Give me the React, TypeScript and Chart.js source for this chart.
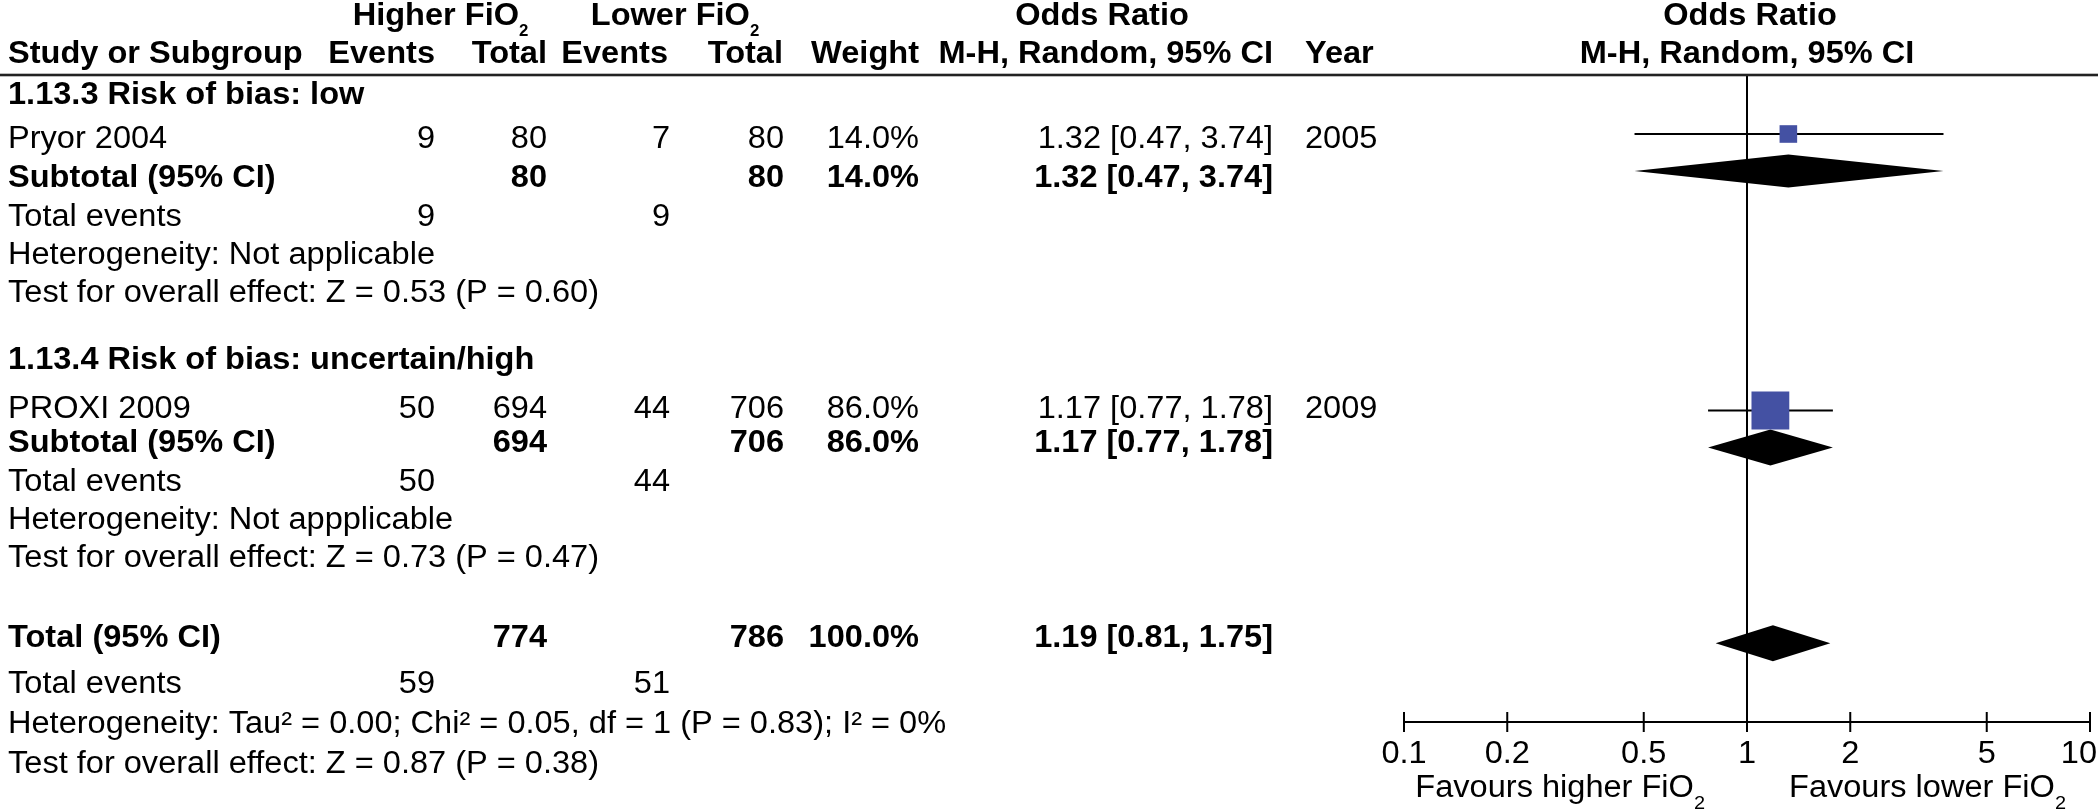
import React, { useEffect, useRef } from 'react';
import { Chart, registerables } from 'chart.js';

Chart.register(...registerables);

// ---------------- data ----------------
const studies = ['Pryor 2004', 'PROXI 2009'];
const studyYears = ['2005', '2009'];
const higherEvents = [9, 50];
const higherTotals = [80, 694];
const lowerEvents = [7, 44];
const lowerTotals = [80, 706];
const studyWeights = [14.0, 86.0];
const studyOR = [1.32, 1.17];
const studyLow = [0.47, 0.77];
const studyHigh = [3.74, 1.78];

const subgroupTitles = ['1.13.3 Risk of bias: low', '1.13.4 Risk of bias: uncertain/high'];
const subgroupOR = [1.32, 1.17];
const subgroupLow = [0.47, 0.77];
const subgroupHigh = [3.74, 1.78];
const subgroupHigherTotals = [80, 694];
const subgroupLowerTotals = [80, 706];
const subgroupWeights = [14.0, 86.0];
const subgroupHigherEvents = [9, 50];
const subgroupLowerEvents = [9, 44];
const subgroupHeterogeneity = ['Heterogeneity: Not applicable', 'Heterogeneity: Not appplicable'];
const subgroupOverallTest = [
  'Test for overall effect: Z = 0.53 (P = 0.60)',
  'Test for overall effect: Z = 0.73 (P = 0.47)',
];

const overallEstimate = [1.19, 0.81, 1.75]; // OR, low, high
const overallTotals = [774, 786];
const overallEvents = [59, 51];
const overallWeight = [100.0];
const overallHeterogeneity = 'Heterogeneity: Tau\u00B2 = 0.00; Chi\u00B2 = 0.05, df = 1 (P = 0.83); I\u00B2 = 0%';
const overallTest = 'Test for overall effect: Z = 0.87 (P = 0.38)';

const xTicks = [0.1, 0.2, 0.5, 1, 2, 5, 10];
const xTickLabels = ['0.1', '0.2', '0.5', '1', '2', '5', '10'];

// ---------------- layout ----------------
const W = 2098;
const H = 811;
const FONT = '"Liberation Sans", Arial, Helvetica, sans-serif';
const FS = 31;
const SX = 1.05;
const COL = { name: 8, hEv: 435, hTot: 547, lEv: 670, lTot: 784, weight: 919, or: 1273, year: 1305 };
const HEADER_BASE = [25, 63.3];
const SECTION_BASE = [
  [104.3, 148.3, 186.7, 225.7, 264.3, 301.7],
  [369.3, 418, 452, 490.7, 529.3, 566.7],
];
const TOTAL_BASE = [646.7, 693.3, 733.3, 773.3];
const STUDY_MARK_Y = [134, 410.5];
const SUB_MARK_Y = [171, 447.5];
const TOTAL_MARK_Y = 643.3;
const SUB_DIAMOND_HALF = [16.5, 18];
const TOTAL_DIAMOND_HALF = 18;
const SQUARE_SIDE = [17.6, 37.8];
const RULE_Y = 75;
const AXIS_Y = 722;
const TICK_LABEL_BASE = 763.3;
const FOOTER_BASE = 797;
const PLOT_LEFT = 1404;
const PLOT_RIGHT = 2090;
const SQUARE_COLOR = '#4451a3';

const fmt2 = (v: number) => v.toFixed(2);
const fmtCI = (o: number, l: number, h: number) => `${fmt2(o)} [${fmt2(l)}, ${fmt2(h)}]`;
const fmtW = (w: number) => `${w.toFixed(1)}%`;

type Part = { t: string; bold?: boolean; size?: number; dy?: number };

function fontOf(p: Part) {
  return `${p.bold ? 'bold ' : ''}${p.size || FS}px ${FONT}`;
}

function drawParts(ctx: CanvasRenderingContext2D, parts: Part[], x: number, y: number, align: 'left' | 'right' | 'center') {
  const widths = parts.map((p) => {
    ctx.font = fontOf(p);
    return ctx.measureText(p.t).width * SX;
  });
  const total = widths.reduce((a, b) => a + b, 0);
  let start = align === 'left' ? x : align === 'right' ? x - total : x - total / 2;
  parts.forEach((p, i) => {
    ctx.save();
    ctx.font = fontOf(p);
    ctx.textAlign = 'left';
    ctx.textBaseline = 'alphabetic';
    ctx.fillStyle = '#000';
    ctx.translate(start, y + (p.dy || 0));
    ctx.scale(SX, 1);
    ctx.fillText(p.t, 0, 0);
    ctx.restore();
    start += widths[i];
  });
  return total;
}

function txt(ctx: CanvasRenderingContext2D, s: string, x: number, y: number, align: 'left' | 'right' | 'center', bold = false) {
  drawParts(ctx, [{ t: s, bold }], x, y, align);
}

const tablePlugin = {
  id: 'forestTable',
  beforeDraw(chart: any) {
    const ctx = chart.ctx as CanvasRenderingContext2D;
    ctx.save();
    ctx.fillStyle = '#fff';
    ctx.fillRect(0, 0, W, H);
    ctx.restore();
  },
  afterDraw(chart: any) {
    const ctx = chart.ctx as CanvasRenderingContext2D;
    const xs = chart.scales.x;
    const ys = chart.scales.y;
    const nullX = xs.getPixelForValue(1);

    // header rule
    ctx.save();
    ctx.fillStyle = '#222';
    ctx.fillRect(0, ys.getPixelForValue(RULE_Y) - 1.3, W, 2.6);
    ctx.restore();

    // x axis
    const ay = ys.getPixelForValue(AXIS_Y);
    ctx.save();
    ctx.strokeStyle = '#000';
    ctx.lineWidth = 2;
    ctx.beginPath();
    ctx.moveTo(xs.getPixelForValue(xTicks[0]), ay);
    ctx.lineTo(xs.getPixelForValue(xTicks[xTicks.length - 1]), ay);
    xTicks.forEach((t) => {
      const px = xs.getPixelForValue(t);
      ctx.moveTo(px, ay - 10);
      ctx.lineTo(px, ay + 10);
    });
    ctx.stroke();
    ctx.restore();
    xTicks.forEach((t, i) => {
      const px = xs.getPixelForValue(t);
      ctx.font = `${FS}px ${FONT}`;
      const w = ctx.measureText(xTickLabels[i]).width * SX;
      let cx = px;
      if (cx + w / 2 > W - 1) cx = W - 1 - w / 2;
      txt(ctx, xTickLabels[i], cx, TICK_LABEL_BASE, 'center');
    });
    drawParts(ctx, [{ t: 'Favours higher FiO' }, { t: '2', size: 19, dy: 12 }], nullX - 42, FOOTER_BASE, 'right');
    drawParts(ctx, [{ t: 'Favours lower FiO' }, { t: '2', size: 19, dy: 12 }], nullX + 42, FOOTER_BASE, 'left');

    // headers
    drawParts(ctx, [{ t: 'Higher FiO', bold: true }, { t: '2', bold: true, size: 16, dy: 11 }], 440.5, HEADER_BASE[0], 'center');
    drawParts(ctx, [{ t: 'Lower FiO', bold: true }, { t: '2', bold: true, size: 16, dy: 11 }], 675, HEADER_BASE[0], 'center');
    txt(ctx, 'Odds Ratio', 1102, HEADER_BASE[0], 'center', true);
    txt(ctx, 'Odds Ratio', nullX + 3, HEADER_BASE[0], 'center', true);
    const h2 = HEADER_BASE[1];
    txt(ctx, 'Study or Subgroup', COL.name, h2, 'left', true);
    txt(ctx, 'Events', COL.hEv, h2, 'right', true);
    txt(ctx, 'Total', COL.hTot, h2, 'right', true);
    txt(ctx, 'Events', COL.lEv - 2, h2, 'right', true);
    txt(ctx, 'Total', COL.lTot - 1, h2, 'right', true);
    txt(ctx, 'Weight', COL.weight, h2, 'right', true);
    txt(ctx, 'M-H, Random, 95% CI', COL.or, h2, 'right', true);
    txt(ctx, 'Year', COL.year, h2, 'left', true);
    txt(ctx, 'M-H, Random, 95% CI', nullX, h2, 'center', true);

    // sections
    for (let s = 0; s < 2; s++) {
      const b = SECTION_BASE[s];
      txt(ctx, subgroupTitles[s], COL.name, b[0], 'left', true);
      txt(ctx, studies[s], COL.name, b[1], 'left');
      txt(ctx, String(higherEvents[s]), COL.hEv, b[1], 'right');
      txt(ctx, String(higherTotals[s]), COL.hTot, b[1], 'right');
      txt(ctx, String(lowerEvents[s]), COL.lEv, b[1], 'right');
      txt(ctx, String(lowerTotals[s]), COL.lTot, b[1], 'right');
      txt(ctx, fmtW(studyWeights[s]), COL.weight, b[1], 'right');
      txt(ctx, fmtCI(studyOR[s], studyLow[s], studyHigh[s]), COL.or, b[1], 'right');
      txt(ctx, studyYears[s], COL.year, b[1], 'left');

      txt(ctx, 'Subtotal (95% CI)', COL.name, b[2], 'left', true);
      txt(ctx, String(subgroupHigherTotals[s]), COL.hTot, b[2], 'right', true);
      txt(ctx, String(subgroupLowerTotals[s]), COL.lTot, b[2], 'right', true);
      txt(ctx, fmtW(subgroupWeights[s]), COL.weight, b[2], 'right', true);
      txt(ctx, fmtCI(subgroupOR[s], subgroupLow[s], subgroupHigh[s]), COL.or, b[2], 'right', true);

      txt(ctx, 'Total events', COL.name, b[3], 'left');
      txt(ctx, String(subgroupHigherEvents[s]), COL.hEv, b[3], 'right');
      txt(ctx, String(subgroupLowerEvents[s]), COL.lEv, b[3], 'right');
      txt(ctx, subgroupHeterogeneity[s], COL.name, b[4], 'left');
      txt(ctx, subgroupOverallTest[s], COL.name, b[5], 'left');
    }

    // overall
    const t = TOTAL_BASE;
    txt(ctx, 'Total (95% CI)', COL.name, t[0], 'left', true);
    txt(ctx, String(overallTotals[0]), COL.hTot, t[0], 'right', true);
    txt(ctx, String(overallTotals[1]), COL.lTot, t[0], 'right', true);
    txt(ctx, fmtW(overallWeight[0]), COL.weight, t[0], 'right', true);
    txt(ctx, fmtCI(overallEstimate[0], overallEstimate[1], overallEstimate[2]), COL.or, t[0], 'right', true);
    txt(ctx, 'Total events', COL.name, t[1], 'left');
    txt(ctx, String(overallEvents[0]), COL.hEv, t[1], 'right');
    txt(ctx, String(overallEvents[1]), COL.lEv, t[1], 'right');
    txt(ctx, overallHeterogeneity, COL.name, t[2], 'left');
    txt(ctx, overallTest, COL.name, t[3], 'left');
  },
};

function buildDatasets() {
  const ds: any[] = [];
  // line of no effect
  ds.push({
    type: 'line',
    data: [{ x: 1, y: RULE_Y }, { x: 1, y: AXIS_Y }],
    borderColor: '#000',
    borderWidth: 2,
    pointRadius: 0,
    fill: false,
    order: 3,
  });
  // confidence intervals
  studies.forEach((_, i) => {
    ds.push({
      type: 'line',
      data: [{ x: studyLow[i], y: STUDY_MARK_Y[i] }, { x: studyHigh[i], y: STUDY_MARK_Y[i] }],
      borderColor: '#000',
      borderWidth: 2,
      pointRadius: 0,
      fill: false,
      order: 2,
    });
  });
  // study squares
  ds.push({
    type: 'scatter',
    data: studies.map((_, i) => ({ x: studyOR[i], y: STUDY_MARK_Y[i] })),
    pointStyle: 'rect',
    pointRadius: (c: any) => SQUARE_SIDE[c.dataIndex] / Math.SQRT2,
    pointHoverRadius: (c: any) => SQUARE_SIDE[c.dataIndex] / Math.SQRT2,
    backgroundColor: SQUARE_COLOR,
    borderColor: SQUARE_COLOR,
    borderWidth: 0,
    pointBorderWidth: 0,
    order: 0,
  });
  // diamonds
  const diamonds = [
    ...subgroupOR.map((o, i) => ({ o, l: subgroupLow[i], h: subgroupHigh[i], y: SUB_MARK_Y[i], hh: SUB_DIAMOND_HALF[i] })),
    { o: overallEstimate[0], l: overallEstimate[1], h: overallEstimate[2], y: TOTAL_MARK_Y, hh: TOTAL_DIAMOND_HALF },
  ];
  diamonds.forEach((d) => {
    ds.push({
      type: 'line',
      data: [{ x: d.l, y: d.y }, { x: d.o, y: d.y - d.hh }, { x: d.h, y: d.y }],
      borderColor: 'rgba(0,0,0,0)',
      borderWidth: 0,
      pointRadius: 0,
      tension: 0,
      fill: '+1',
      backgroundColor: '#000',
      order: 1,
    });
    ds.push({
      type: 'line',
      data: [{ x: d.l, y: d.y }, { x: d.o, y: d.y + d.hh }, { x: d.h, y: d.y }],
      borderColor: 'rgba(0,0,0,0)',
      borderWidth: 0,
      pointRadius: 0,
      tension: 0,
      fill: false,
      order: 1,
    });
  });
  return ds;
}

export default function App() {
  const ref = useRef<HTMLCanvasElement>(null);
  useEffect(() => {
    document.body.style.margin = '0';
    document.body.style.overflow = 'hidden';
    const chart = new Chart(ref.current as HTMLCanvasElement, {
      type: 'scatter',
      data: { datasets: buildDatasets() },
      options: {
        responsive: false,
        animation: false,
        devicePixelRatio: 1,
        events: [],
        layout: { autoPadding: false, padding: { left: PLOT_LEFT, right: W - PLOT_RIGHT, top: 0, bottom: 0 } },
        plugins: { legend: { display: false }, tooltip: { enabled: false } },
        scales: {
          x: { type: 'logarithmic', min: 0.1, max: 10, display: false },
          y: { type: 'linear', min: 0, max: H, reverse: true, display: false },
        },
      },
      plugins: [tablePlugin],
    } as any);
    return () => chart.destroy();
  }, []);
  return (
    <div style={{ width: W, height: H }}>
      <canvas ref={ref} width={W} height={H} style={{ display: 'block', width: W, height: H }} />
    </div>
  );
}
